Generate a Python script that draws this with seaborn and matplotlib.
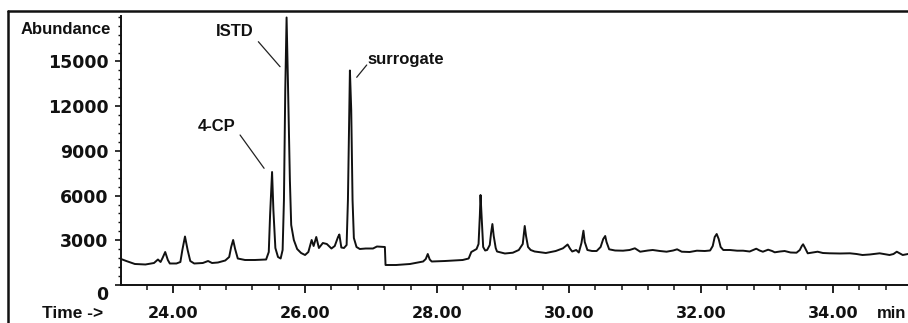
import matplotlib
matplotlib.use("Agg")
import matplotlib.pyplot as plt
import matplotlib.transforms as mtransforms
from matplotlib.lines import Line2D
from matplotlib.ticker import MultipleLocator
import numpy as np
import pandas as pd
import seaborn as sns

# ---- data ----
time_min = [
    23.21, 23.29, 23.42, 23.58, 23.71, 23.77, 23.81, 23.84, 23.88, 23.92, 23.95,
    24.05, 24.11, 24.14, 24.18, 24.22, 24.26, 24.32, 24.45, 24.53, 24.59, 24.68,
    24.79, 24.85, 24.88, 24.91, 24.94, 24.98, 25.09, 25.24, 25.41, 25.45, 25.47,
    25.50, 25.52, 25.55, 25.59, 25.63, 25.66, 25.68, 25.70, 25.72, 25.74, 25.77,
    25.79, 25.83, 25.88, 25.94, 26.00, 26.05, 26.10, 26.13, 26.17, 26.21, 26.27,
    26.33, 26.40, 26.45, 26.50, 26.52, 26.55, 26.59, 26.63, 26.65, 26.67, 26.68,
    26.70, 26.72, 26.74, 26.78, 26.83, 26.92, 27.03, 27.09, 27.21, 27.22, 27.38,
    27.59, 27.79, 27.83, 27.86, 27.89, 27.92, 28.12, 28.39, 28.48, 28.52, 28.60,
    28.63, 28.65, 28.66, 28.68, 28.70, 28.73, 28.76, 28.80, 28.82, 28.84, 28.86,
    28.89, 28.91, 29.03, 29.15, 29.24, 29.30, 29.32, 29.33, 29.35, 29.38, 29.42,
    29.48, 29.65, 29.80, 29.91, 29.98, 30.02, 30.05, 30.11, 30.15, 30.19, 30.22,
    30.24, 30.28, 30.35, 30.42, 30.48, 30.52, 30.55, 30.57, 30.61, 30.70, 30.82,
    30.92, 31.00, 31.08, 31.20, 31.27, 31.38, 31.48, 31.58, 31.64, 31.71, 31.83,
    31.94, 32.06, 32.14, 32.18, 32.21, 32.24, 32.27, 32.30, 32.34, 32.44, 32.55,
    32.64, 32.74, 32.84, 32.89, 32.94, 33.02, 33.08, 33.12, 33.20, 33.27, 33.36,
    33.45, 33.50, 33.53, 33.55, 33.58, 33.62, 33.70, 33.77, 33.85, 33.95, 34.11,
    34.26, 34.36, 34.45, 34.56, 34.71, 34.86, 34.92, 34.97, 35.02, 35.06, 35.14,
]
abundance = [
    1745, 1610, 1410, 1376, 1476, 1711, 1543, 1812, 2214, 1678, 1443,
    1443, 1543, 2349, 3254, 2349, 1610, 1443, 1476, 1610, 1476, 1510,
    1644, 1879, 2550, 3020, 2416, 1778, 1678, 1678, 1711, 2214, 4697,
    7582, 5033, 2483, 1879, 1778, 2349, 5704, 13085, 17950, 13756, 7046,
    4026, 3020, 2416, 2147, 2013, 2214, 3020, 2617, 3221, 2483, 2818,
    2751, 2449, 2617, 3221, 3389, 2516, 2483, 2684, 5704, 11743, 14393,
    11743, 5704, 3154, 2550, 2416, 2449, 2449, 2583, 2550, 1342, 1342,
    1409, 1577, 1745, 2080, 1711, 1577, 1610, 1678, 1778, 2214, 2416,
    2751, 4697, 6039, 4227, 2550, 2315, 2349, 2684, 3489, 4093, 3288,
    2483, 2248, 2114, 2167, 2349, 2751, 3556, 3959, 3288, 2550, 2349,
    2248, 2147, 2281, 2463, 2718, 2416, 2248, 2349, 2181, 2818, 3644,
    2885, 2349, 2281, 2281, 2550, 3087, 3288, 2885, 2395, 2315, 2302,
    2349, 2463, 2234, 2315, 2349, 2281, 2234, 2315, 2395, 2234, 2214,
    2302, 2281, 2315, 2617, 3221, 3422, 3087, 2550, 2349, 2349, 2302,
    2302, 2248, 2436, 2315, 2234, 2369, 2281, 2194, 2248, 2281, 2181,
    2167, 2349, 2617, 2731, 2483, 2127, 2181, 2234, 2147, 2127, 2114,
    2127, 2080, 2013, 2047, 2127, 2013, 2080, 2234, 2114, 2013, 2080,
]

y_ticks = [0, 3000, 6000, 9000, 12000, 15000]
x_ticks = [24, 26, 28, 30, 32, 34]
x_tick_labels = ["24.00", "26.00", "28.00", "30.00", "32.00", "34.00"]

peak_names = ["4-CP", "ISTD", "surrogate"]
peak_label_t = [24.66, 24.94, 27.52]
peak_label_a = [10650, 17000, 15100]
leader_t0 = [25.015, 25.292, 26.935]
leader_a0 = [10065, 16325, 14762]
leader_t1 = [25.379, 25.621, 26.783]
leader_a1 = [7831, 14648, 13937]

# ---- styling ----
sns.set_theme(style="white")
plt.rcParams["font.family"] = ["Liberation Sans", "DejaVu Sans"]

W, H = 908, 323
fig = plt.figure(figsize=(W / 100, H / 100), dpi=100)
ax = fig.add_axes([121 / W, 1 - 285 / H, 1 - 121 / W, (285 - 16) / H])

df = pd.DataFrame({"time": time_min, "abundance": abundance})
sns.lineplot(data=df, x="time", y="abundance", ax=ax, color="#111111",
             linewidth=1.4, sort=False, estimator=None, legend=False)

ax.set_xlim(23.21, 35.14)
ax.set_ylim(0, 18050)
ax.set_xlabel("")
ax.set_ylabel("")

for s in ["top", "right"]:
    ax.spines[s].set_visible(False)
for s in ["left", "bottom"]:
    ax.spines[s].set_color("#111111")
    ax.spines[s].set_linewidth(1.4)

ax.set_xticks(x_ticks)
ax.set_xticklabels(x_tick_labels)
ax.set_yticks(y_ticks)
ax.set_yticklabels([str(v) for v in y_ticks])
ax.xaxis.set_minor_locator(MultipleLocator(0.4))
ax.yaxis.set_minor_locator(MultipleLocator(600))

ax.tick_params(axis="x", which="major", direction="out", length=6, width=1.3,
               pad=9, colors="#111111", labelsize=11.5)
ax.tick_params(axis="x", which="minor", direction="out", length=3.5, width=1.1,
               colors="#111111")
ax.tick_params(axis="y", which="major", direction="out", length=4, width=1.2,
               pad=5, colors="#111111", labelsize=12.5)
ax.tick_params(axis="y", which="minor", direction="out", length=2.5, width=1.0,
               colors="#111111")
ax.tick_params(bottom=True, left=True, which="both")

for lab in ax.get_xticklabels() + ax.get_yticklabels():
    lab.set_fontfamily("DejaVu Sans")
    lab.set_fontweight("bold")
    lab.set_color("#111111")

# nudge the "0" label below the time axis like the original
zero_lab = ax.get_yticklabels()[0]
zero_lab.set_transform(zero_lab.get_transform() +
                       mtransforms.ScaledTranslation(0, -8 / 100, fig.dpi_scale_trans))

# peak labels and leader lines
for name, tx, ay, t0, a0, t1, a1 in zip(peak_names, peak_label_t, peak_label_a,
                                       leader_t0, leader_a0, leader_t1, leader_a1):
    ax.text(tx, ay, name, ha="center", va="center", fontsize=12,
            fontweight="bold", color="#111111")
    ax.plot([t0, t1], [a0, a1], color="#222222", lw=0.9)

# axis captions
fig.text(111 / W, 1 - 30 / H, "Abundance", ha="right", va="center",
         fontsize=12, fontweight="bold", color="#111111")
fig.text(103 / W, 1 - 313 / H, "Time ->", ha="right", va="center",
         fontsize=12.5, fontweight="bold", color="#111111")
fig.text(906 / W, 1 - 313 / H, "min", ha="right", va="center",
         fontsize=12, fontweight="bold", color="#111111")

# outer frame of the printout
fig.add_artist(Line2D([8 / W, 1], [1 - 11 / H, 1 - 11 / H], transform=fig.transFigure,
                      color="#111111", lw=1.8))
fig.add_artist(Line2D([8 / W, 8 / W], [0, 1 - 11 / H], transform=fig.transFigure,
                      color="#111111", lw=1.8))

fig.savefig("out.png", dpi=100, facecolor="white")
